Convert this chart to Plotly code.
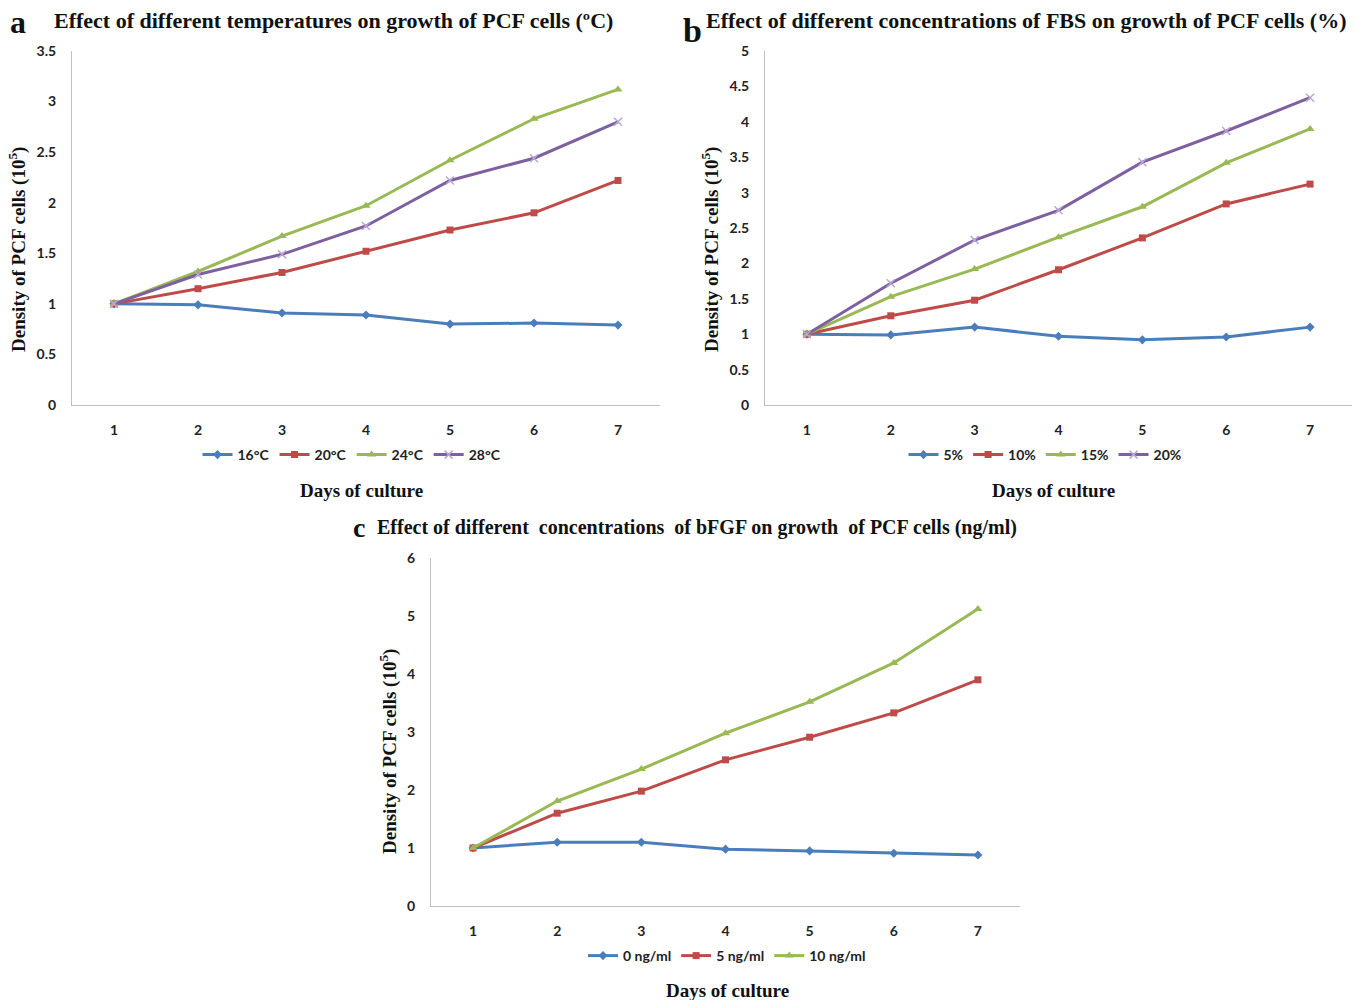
import plotly.graph_objects as go

days = [1, 2, 3, 4, 5, 6, 7]

# Panel a: temperatures
temp_names = ["16°C", "20°C", "24°C", "28°C"]
temp_16 = [1.00, 0.99, 0.91, 0.89, 0.80, 0.81, 0.79]
temp_20 = [1.00, 1.15, 1.31, 1.52, 1.73, 1.90, 2.22]
temp_24 = [1.00, 1.32, 1.67, 1.97, 2.42, 2.83, 3.12]
temp_28 = [1.00, 1.29, 1.49, 1.77, 2.22, 2.44, 2.80]

# Panel b: FBS
fbs_names = ["5%", "10%", "15%", "20%"]
fbs_5 = [1.00, 0.99, 1.10, 0.97, 0.92, 0.96, 1.10]
fbs_10 = [1.00, 1.26, 1.48, 1.91, 2.36, 2.84, 3.12]
fbs_15 = [1.00, 1.53, 1.92, 2.37, 2.80, 3.42, 3.90]
fbs_20 = [1.00, 1.72, 2.33, 2.75, 3.43, 3.87, 4.34]

# Panel c: bFGF
fgf_names = ["0 ng/ml", "5 ng/ml", "10 ng/ml"]
fgf_0 = [1.00, 1.10, 1.10, 0.98, 0.95, 0.91, 0.88]
fgf_5 = [1.00, 1.60, 1.98, 2.52, 2.91, 3.33, 3.90]
fgf_10 = [1.00, 1.81, 2.36, 2.98, 3.52, 4.19, 5.12]

colors = ["#4A7EBB", "#BE4B48", "#98B954", "#7D60A0"]
symbols = ["diamond", "square", "triangle-up", "x-thin"]
msizes = [7, 7, 8, 8]

SANS = "Lato, 'Open Sans', sans-serif"
SERIF = "'Liberation Serif', 'Times New Roman', serif"

fig = go.Figure()

def add_series(names, series, xa, ya, legend):
    for i, (n, ys) in enumerate(zip(names, series)):
        marker = dict(symbol=symbols[i], size=msizes[i], color=colors[i])
        if symbols[i] == "x-thin":
            marker["line"] = dict(color="#B9A6D3", width=1.5)
        fig.add_trace(go.Scatter(
            x=days, y=ys, name=n, mode="lines+markers",
            line=dict(color=colors[i], width=3),
            marker=marker, xaxis=xa, yaxis=ya, legend=legend,
        ))

add_series(temp_names, [temp_16, temp_20, temp_24, temp_28], "x", "y", "legend")
add_series(fbs_names, [fbs_5, fbs_10, fbs_15, fbs_20], "x2", "y2", "legend2")
add_series(fgf_names, [fgf_0, fgf_5, fgf_10], "x3", "y3", "legend3")

W, H = 1368, 1000

def xd(a, b):
    return [a / W, b / W]

def yd(top, bottom):
    return [1 - bottom / H, 1 - top / H]

tickfont = dict(family=SANS, size=14, color="#222", weight="bold")
axis_line = dict(showline=True, linecolor="#BFBFBF", linewidth=1, showgrid=False,
                 zeroline=False, ticks="", tickfont=tickfont, automargin=False)

fig.update_layout(
    xaxis=dict(domain=xd(72, 660), range=[0.5, 7.5], tickvals=days, anchor="y", **axis_line),
    yaxis=dict(domain=yd(51, 405), range=[0, 3.5], dtick=0.5, anchor="x", **axis_line),
    xaxis2=dict(domain=xd(765, 1352), range=[0.5, 7.5], tickvals=days, anchor="y2", **axis_line),
    yaxis2=dict(domain=yd(51, 405), range=[0, 5], dtick=0.5, anchor="x2", **axis_line),
    xaxis3=dict(domain=xd(431, 1020), range=[0.5, 7.5], tickvals=days, anchor="y3", **axis_line),
    yaxis3=dict(domain=yd(558, 906), range=[0, 6], dtick=1, anchor="x3", **axis_line),
)
fig.update_xaxes(ticklabelstandoff=12)
fig.update_yaxes(ticklabelstandoff=12)

leg_common = dict(orientation="h", xanchor="center", yanchor="middle", bgcolor="rgba(0,0,0,0)",
                  font=dict(family=SANS, size=14, color="#222", weight="bold"), itemwidth=30,
                  tracegroupgap=0, itemclick=False, xref="container", yref="container")
fig.update_layout(
    legend=dict(x=352 / W, y=1 - 455 / H, **leg_common),
    legend2=dict(x=1045 / W, y=1 - 455 / H, **leg_common),
    legend3=dict(x=727 / W, y=1 - 956 / H, **leg_common),
)

annotations = []

def txt(x, y, s, size, family=SERIF, xanchor="left", angle=0):
    annotations.append(dict(x=x / W, y=1 - y / H, xref="paper", yref="paper", text=s,
                            showarrow=False, xanchor=xanchor, yanchor="middle", textangle=angle,
                            font=dict(family=family, size=size, color="#111")))

# Panel labels and titles
txt(8, 22, "<b>a</b>", 32)
txt(52, 20, "<b>Effect of different temperatures on growth of PCF cells (ºC)</b>", 22)
txt(681, 30, "<b>b</b>", 34)
txt(704, 20, "<b>Effect of different concentrations of FBS on growth of PCF cells (%)</b>", 22)
txt(351, 527, "<b>c</b>", 28)
txt(375, 527, "<b>Effect of different  concentrations  of bFGF on growth  of PCF cells (ng/ml)</b>", 20)

# Axis titles
txt(361, 490, "<b>Days of culture</b>", 19, xanchor="center")
txt(1053, 490, "<b>Days of culture</b>", 19, xanchor="center")
txt(727, 990, "<b>Days of culture</b>", 19, xanchor="center")
ytitle = "<b>Density of PCF cells (10<sup>5</sup>)</b>"
txt(17, 250, ytitle, 19, xanchor="center", angle=-90)
txt(710, 250, ytitle, 19, xanchor="center", angle=-90)
txt(388, 752, ytitle, 19, xanchor="center", angle=-90)

fig.update_layout(
    annotations=annotations,
    width=W, height=H,
    margin=dict(l=0, r=0, t=0, b=0, autoexpand=False),
    paper_bgcolor="white", plot_bgcolor="white",
    showlegend=True,
)

fig.write_html(
    "out.html",
    config={"displayModeBar": False},
    post_script="document.body.style.margin='0';document.body.style.overflow='hidden';",
)
